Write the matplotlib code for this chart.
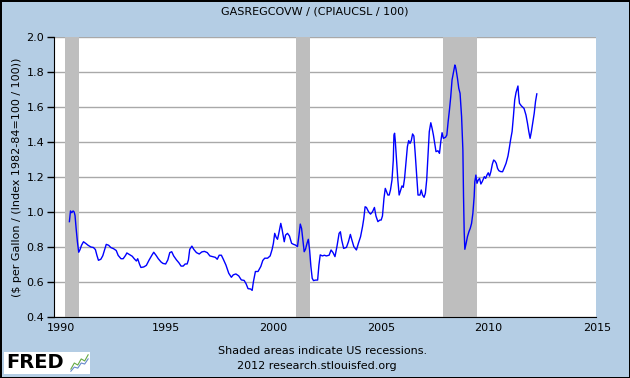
import matplotlib
matplotlib.use("Agg")
from matplotlib import pyplot as plt
from matplotlib import transforms
from matplotlib.patches import Rectangle

years = [1990.71, 1990.76, 1990.82, 1990.88, 1990.93, 1990.97, 1991.02, 1991.08, 1991.14, 1991.20,
         1991.27, 1991.36, 1991.47, 1991.57, 1991.70, 1991.82, 1991.91, 1991.98, 1992.05, 1992.16,
         1992.25, 1992.35, 1992.41, 1992.52, 1992.62, 1992.75, 1992.87, 1992.96, 1993.09, 1993.19,
         1993.30, 1993.36, 1993.49, 1993.61, 1993.70, 1993.80, 1993.86, 1993.95, 1994.01, 1994.14,
         1994.26, 1994.38, 1994.51, 1994.60, 1994.71, 1994.81, 1994.94, 1995.03, 1995.15, 1995.25,
         1995.34, 1995.43, 1995.52, 1995.65, 1995.76, 1995.86, 1995.96, 1996.05, 1996.14, 1996.20,
         1996.26, 1996.36, 1996.45, 1996.57, 1996.70, 1996.82, 1996.94, 1997.07, 1997.19, 1997.31,
         1997.44, 1997.53, 1997.62, 1997.72, 1997.81, 1997.93, 1998.06, 1998.18, 1998.27, 1998.39,
         1998.52, 1998.64, 1998.77, 1998.86, 1998.95, 1999.07, 1999.14, 1999.20, 1999.29, 1999.41,
         1999.54, 1999.63, 1999.72, 1999.85, 1999.97, 2000.06, 2000.12, 2000.18, 2000.25, 2000.31,
         2000.37, 2000.46, 2000.52, 2000.62, 2000.68, 2000.77, 2000.86, 2000.96, 2001.05, 2001.14,
         2001.23, 2001.30, 2001.36, 2001.42, 2001.48, 2001.54, 2001.60, 2001.67, 2001.73, 2001.79,
         2001.85, 2001.91, 2001.97, 2002.07, 2002.16, 2002.22, 2002.28, 2002.38, 2002.47, 2002.56,
         2002.69, 2002.78, 2002.87, 2002.96, 2003.05, 2003.15, 2003.21, 2003.27, 2003.36, 2003.49,
         2003.58, 2003.67, 2003.74, 2003.83, 2003.95, 2004.04, 2004.14, 2004.23, 2004.29, 2004.35,
         2004.41, 2004.51, 2004.60, 2004.69, 2004.78, 2004.85, 2004.94, 2005.03, 2005.09, 2005.15,
         2005.22, 2005.28, 2005.34, 2005.40, 2005.46, 2005.52, 2005.59, 2005.65, 2005.68, 2005.71,
         2005.74, 2005.80, 2005.86, 2005.92, 2005.99, 2006.05, 2006.11, 2006.17, 2006.23, 2006.30,
         2006.36, 2006.42, 2006.48, 2006.54, 2006.60, 2006.66, 2006.73, 2006.79, 2006.88, 2006.94,
         2007.00, 2007.07, 2007.13, 2007.19, 2007.25, 2007.31, 2007.38, 2007.44, 2007.50, 2007.56,
         2007.62, 2007.71, 2007.78, 2007.84, 2007.90, 2007.96, 2008.06, 2008.12, 2008.18, 2008.24,
         2008.30, 2008.36, 2008.43, 2008.49, 2008.52, 2008.55, 2008.61, 2008.67, 2008.73, 2008.80,
         2008.86, 2008.89, 2008.92, 2008.95, 2009.01, 2009.07, 2009.14, 2009.20, 2009.26, 2009.32,
         2009.38, 2009.41, 2009.46, 2009.51, 2009.57, 2009.63, 2009.69, 2009.75, 2009.85, 2009.91,
         2009.97, 2010.03, 2010.09, 2010.15, 2010.22, 2010.28, 2010.34, 2010.40, 2010.46, 2010.52,
         2010.60, 2010.69, 2010.76, 2010.85, 2010.94, 2011.00, 2011.06, 2011.13, 2011.19, 2011.25,
         2011.31, 2011.37, 2011.40, 2011.43, 2011.47, 2011.56, 2011.68, 2011.77, 2011.84, 2011.90,
         2011.96, 2012.02, 2012.08, 2012.15, 2012.21, 2012.27]
values = [0.945, 1.006, 0.996, 1.006, 1.000, 0.980, 0.907, 0.830, 0.770, 0.785,
          0.810, 0.830, 0.820, 0.810, 0.800, 0.797, 0.785, 0.752, 0.724, 0.730,
          0.750, 0.790, 0.815, 0.810, 0.797, 0.790, 0.780, 0.752, 0.733, 0.733,
          0.752, 0.766, 0.756, 0.747, 0.733, 0.720, 0.733, 0.700, 0.683, 0.686,
          0.695, 0.724, 0.752, 0.770, 0.752, 0.733, 0.714, 0.706, 0.703, 0.726,
          0.768, 0.773, 0.749, 0.726, 0.710, 0.691, 0.691, 0.703, 0.703, 0.726,
          0.786, 0.805, 0.786, 0.768, 0.760, 0.772, 0.775, 0.768, 0.749, 0.745,
          0.741, 0.730, 0.753, 0.753, 0.730, 0.697, 0.650, 0.627, 0.641, 0.646,
          0.635, 0.612, 0.609, 0.590, 0.562, 0.560, 0.552, 0.603, 0.660, 0.660,
          0.689, 0.723, 0.736, 0.736, 0.749, 0.786, 0.821, 0.878, 0.855, 0.844,
          0.878, 0.935, 0.901, 0.830, 0.868, 0.878, 0.863, 0.821, 0.815, 0.811,
          0.802, 0.868, 0.931, 0.906, 0.840, 0.773, 0.787, 0.821, 0.844, 0.783,
          0.688, 0.621, 0.608, 0.611, 0.611, 0.697, 0.755, 0.749, 0.753, 0.749,
          0.753, 0.783, 0.768, 0.745, 0.802, 0.878, 0.887, 0.840, 0.792, 0.798,
          0.830, 0.872, 0.840, 0.802, 0.783, 0.821, 0.859, 0.916, 0.963, 1.030,
          1.026, 1.001, 0.988, 1.001, 1.026, 0.977, 0.945, 0.954, 0.954, 0.977,
          1.078, 1.135, 1.116, 1.097, 1.097, 1.126, 1.183, 1.297, 1.440, 1.450,
          1.410, 1.297, 1.183, 1.097, 1.126, 1.149, 1.141, 1.192, 1.278, 1.373,
          1.408, 1.392, 1.408, 1.446, 1.434, 1.335, 1.202, 1.097, 1.097, 1.126,
          1.097, 1.084, 1.107, 1.183, 1.326, 1.459, 1.510, 1.478, 1.440, 1.392,
          1.345, 1.350, 1.335, 1.402, 1.453, 1.421, 1.427, 1.440, 1.516, 1.583,
          1.659, 1.755, 1.802, 1.840, 1.830, 1.811, 1.764, 1.707, 1.678, 1.545,
          1.354, 1.088, 0.888, 0.787, 0.821, 0.859, 0.888, 0.907, 0.935, 0.992,
          1.088, 1.173, 1.211, 1.164, 1.183, 1.192, 1.160, 1.173, 1.202, 1.192,
          1.211, 1.224, 1.205, 1.230, 1.274, 1.297, 1.291, 1.278, 1.249, 1.236,
          1.231, 1.230, 1.250, 1.278, 1.320, 1.364, 1.412, 1.460, 1.545, 1.640,
          1.682, 1.707, 1.720, 1.669, 1.621, 1.606, 1.592, 1.554, 1.507, 1.460,
          1.421, 1.460, 1.507, 1.564, 1.631, 1.675]

recession_start = [1990.50, 2001.17, 2007.92]
recession_end = [1991.17, 2001.83, 2009.50]

x_ticks = [1990, 1995, 2000, 2005, 2010, 2015]
y_ticks = [0.4, 0.6, 0.8, 1.0, 1.2, 1.4, 1.6, 1.8, 2.0]

bg = '#B4CDE4'
fig = plt.figure(figsize=(6.3, 3.78), dpi=100, facecolor=bg)
fig.patch.set_edgecolor('black')
fig.patch.set_linewidth(2)

ax = fig.add_axes([54/630, 1-317/378, 542/630, 280/378])
ax.set_facecolor('white')

for a, b in zip(recession_start, recession_end):
    ax.axvspan(a, b, color='#BEBEBE', lw=0, zorder=1.5)

ax.plot(years, values, color='#0000FF', lw=1.0, zorder=3)

ax.set_xlim(1990, 2015)
ax.set_ylim(0.4, 2.0)
ax.set_xticks(x_ticks)
ax.set_xticklabels([str(t) for t in x_ticks])
ax.set_yticks(y_ticks)
ax.set_yticklabels(['%.1f' % t for t in y_ticks])
ax.set_axisbelow(True)
ax.yaxis.grid(True, color='#A9A9A9', lw=1)
ax.xaxis.grid(False)

ax.tick_params(axis='y', length=5, width=1, color='black', labelsize=8, pad=2)
ax.tick_params(axis='x', length=0, labelsize=8, pad=4)

# FRED puts the year labels a little right of the tick
shifts = [7, 4, 2, 2, 1, 1]
for lbl, s in zip(ax.get_xticklabels(), shifts):
    lbl.set_transform(lbl.get_transform() + transforms.ScaledTranslation(s/100, 0, fig.dpi_scale_trans))

ax.spines['top'].set_visible(False)
ax.spines['right'].set_visible(False)
ax.spines['left'].set_color('black')
ax.spines['bottom'].set_color('black')

ax.set_ylabel('($ per Gallon / (Index 1982-84=100 / 100))', fontsize=8, labelpad=3)

fig.text(0.5, 1-11/378, 'GASREGCOVW / (CPIAUCSL / 100)', ha='center', va='center', fontsize=8)
fig.text(323/630, 1-351/378, 'Shaded areas indicate US recessions.', ha='center', va='center', fontsize=8)
fig.text(317/630, 1-366/378, '2012 research.stlouisfed.org', ha='center', va='center', fontsize=8)

# FRED logo
fig.patches.append(Rectangle((4/630, 1-374/378), 86/630, 22/378, transform=fig.transFigure,
                             facecolor='white', edgecolor='none', zorder=0.5))
fig.text(6/630, 1-363/378, 'FRED', ha='left', va='center', fontsize=14, fontweight='heavy',
         color='black')
icon = fig.add_axes([70/630, 1-372/378, 19/630, 18/378])
icon.set_zorder(3)
icon.set_facecolor('white')
icon.plot([0, 1, 2, 3, 4, 5], [0.2, 0.5, 0.4, 0.7, 0.6, 0.9], color='#66AA44', lw=0.8)
icon.plot([0, 1, 2, 3, 4, 5], [0.1, 0.3, 0.25, 0.5, 0.45, 0.7], color='#6688CC', lw=0.8)
icon.set_xticks([])
icon.set_yticks([])
for s in icon.spines.values():
    s.set_visible(False)

fig.savefig('out.png', dpi=100, facecolor=bg, edgecolor='black')
